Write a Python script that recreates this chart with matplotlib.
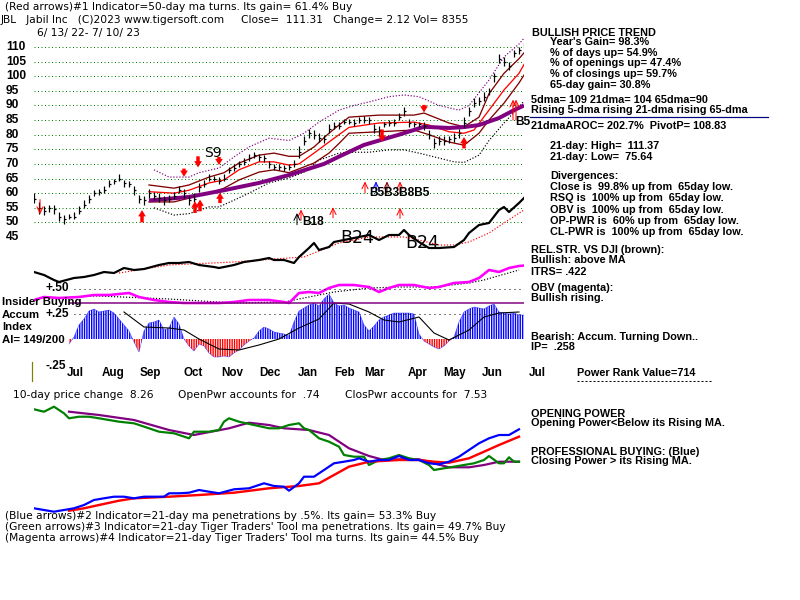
import matplotlib
matplotlib.use('Agg')
import matplotlib.pyplot as plt
from matplotlib.lines import Line2D
from matplotlib.transforms import blended_transform_factory as btf

plt.rcParams['hatch.linewidth'] = 1.0

# ---------------- data ----------------
price_ticks = [45, 50, 55, 60, 65, 70, 75, 80, 85, 90, 95, 100, 105, 110]

close = [58,55,54,55,54.5,52,51,52,52,54,56,58,60,60.5,61,63,64,65,63.5,63,61,58,57.5,60,59,
         58.5,57.5,58,59,61,60,57.5,58,62,63,65,65,64,65,68,68.5,70,70.5,72,73,72.5,72,70,69,69,
         68.5,69,70,74,78,80.5,80,79,78.5,82,83,83,84.5,84.5,84,85,85,85,82,81.5,83.5,84,84,86,88,
         84,83.5,83.5,83,80,77,78,78,78.5,79,80.5,84,88,91,91.5,93,95,100,106,105,103.5,108,109,111]
highs = [60,57,55.5,56,56,53.5,52.5,53,53.5,55.5,57.5,59.5,61,61.5,62.5,64.5,65,66.5,64.5,64,62.5,
         59.5,59,61.5,60.5,60,59,59.5,60.5,62.5,61.5,59,60,63.5,64.5,66.5,66,65.5,66.5,69,70,71,72,
         73.5,74,73.5,73,71,70,70,69.5,70,71.5,76,79.5,82,81.5,80.5,80,83.5,84.5,84.5,85.5,85.5,85.5,
         86,86.5,86,83.5,83,84.5,85,85.5,87.5,89.5,85.5,84.5,84.5,84.5,81.5,79,79.5,79.5,79.5,80.5,
         82,86,89.5,92.5,93,94.5,96,101,107.5,106.5,105,109,110,111.5]
lows = [56.5,53,52.5,53.5,53,50.5,49.5,51,51,53,55,56.5,59,59.5,60,62,63,64,62,62,59.5,56.5,56,58.5,
        57.5,57,56,57,58,60,58.5,56,57,60.5,62,64,64,63,64,67,67.5,69,69.5,71,72,71,70.5,68.5,68,68,
        67.5,68,69,72,76.5,79,78.5,77.5,77,80.5,82,82,83.5,83.5,83,84,84,83.5,80.5,79.5,82.5,83,83,85,
        86.5,82.5,82.5,82.5,81.5,78.5,75.5,76.5,76.5,77,77.5,79,82.5,86.5,89.5,90,91.5,93.5,98,104.5,
        103.5,102,106.5,107.5,109.5]

ma65_x = [23,31,38,45,51,58,61,66,73,78,83,86,89,93,96,98]
ma65_y = [57.5,58.7,61,63.5,66.2,70,72.5,76.5,80,82.7,82.3,82.6,83.3,85.7,88.4,90]
ma21_x = [23,28,31,35,38,41,45,48,51,53,56,59,61,63,69,76,79,83,86,88,91,94,97,98]
ma21_y = [60.5,60,61,63.5,64.5,68,70.7,70.7,69.6,70,73.7,77.5,80,82.5,84,84.3,83.3,81,80.5,81.6,88.4,95.3,101,104]
band_hi_x = [23,28,31,35,38,41,45,48,51,53,56,59,61,63,69,76,78,83,86,89,91,94,97,98]
band_hi_y = [62.8,61.7,62.8,65.5,67,70.3,73,73.7,72.6,72.6,75.8,80.5,83.3,86,86.7,86.7,87.4,84,82.7,86,94,101,106,108]
band_lo_x = [23,28,31,35,38,41,45,48,51,56,59,61,63,69,76,79,83,86,89,91,94,97,98]
band_lo_y = [57,57,58.3,60,61.7,64.5,67.2,68,67,70.3,73.7,77,80.5,81,81.6,80,77.5,76.4,80.5,85,90.8,97.7,100.4]
outer_hi_x = [24,27,31,33,37,40,43,47,51,54,57,61,64,67,71,74,77,81,85,87,91,94,97,98]
outer_hi_y = [68,65.5,65.5,67,68.6,72.4,75.8,78.8,78,80.5,84.3,88.4,90,91.2,93,93.6,93,90,88.4,90,98.7,106.6,111,113]
outer_lo_x = [24,28,31,35,37,40,43,47,51,54,57,61,64,67,71,74,77,81,84,86,89,91,94,97,98]
outer_lo_y = [55,52.5,53,55.3,55.3,57.6,60,63.5,65.2,67.2,71.3,73.7,74,74,74.8,74.8,73.7,72,70.7,70.5,73,78,84,89.5,91.5]

rs_x = [0,2,4,5,8,10,12,14,16,18,20,22,25,27,29,31,33,36,37,40,42,45,47,48,50,52,53,55,56,57,59,60,62,
        65,67,69,71,73,74,75,77,79,81,84,86,87,89,91,93,94,95,97,98]
rs_y = [0.28,0.25,0.20,0.18,0.22,0.23,0.25,0.28,0.27,0.32,0.30,0.31,0.35,0.37,0.37,0.38,0.35,0.33,0.32,
        0.35,0.38,0.40,0.42,0.40,0.40,0.37,0.43,0.52,0.57,0.50,0.53,0.58,0.60,0.63,0.65,0.60,0.65,0.65,
        0.70,0.65,0.58,0.52,0.52,0.53,0.60,0.67,0.75,0.77,0.90,0.93,0.88,0.97,1.02]
rsma_x = [17,27,40,48,54,61,67,74,77,81,84,87,91,94,98]
rsma_y = [0.27,0.35,0.38,0.41,0.43,0.57,0.63,0.63,0.60,0.55,0.55,0.58,0.67,0.77,0.90]

obv_x = [0,2,5,9,12,15,19,21,24,27,30,33,37,40,43,47,50,51,53,55,57,59,61,64,67,69,71,73,76,79,81,84,
         87,89,91,93,95,97,98]
obv_y = [1.0,1.15,1.1,1.15,1.25,1.25,1.35,1.15,1.0,0.9,0.85,0.85,0.85,0.9,1.0,1.0,0.9,0.85,1.35,1.4,
         1.35,1.6,1.75,1.75,1.65,1.4,1.6,1.75,1.75,1.6,1.65,1.85,1.9,2.1,2.5,2.4,2.6,2.7,2.72]
obvma_x = [10,13,27,40,50,60,67,73,80,87,90,97]
obvma_y = [1.2,1.2,1.05,0.85,0.9,1.4,1.6,1.65,1.65,1.85,2.0,2.5]

acc_start = 7
acc_y = [-0.05,0.02,0.14,0.20,0.28,0.30,0.27,0.28,0.29,0.26,0.20,0.14,0.08,-0.03,-0.13,0.08,0.16,0.17,
         0.19,0.09,0.11,0.22,0.15,0.00,-0.07,-0.12,-0.05,-0.07,-0.14,-0.18,-0.18,-0.17,-0.18,-0.14,-0.11,
         -0.06,-0.02,0.01,0.08,0.12,0.10,0.07,0.06,0.05,0.03,0.17,0.28,0.31,0.34,0.36,0.33,0.40,0.45,0.36,
         0.33,0.34,0.31,0.29,0.27,0.14,0.08,0.13,0.19,0.22,0.24,0.26,0.26,0.26,0.26,0.25,0.05,-0.02,-0.05,
         -0.08,-0.10,-0.07,-0.02,0.02,0.17,0.27,0.30,0.32,0.31,0.30,0.33,0.35,0.27,0.26,0.25,0.26,0.24,0.24]
accma_x = [18,22,27,30,33,37,41,45,49,53,57,60,63,67,70,73,77,80,83,87,90,93,97]
accma_y = [0.27,0.12,0.11,0.09,0.0,-0.1,-0.11,-0.06,0.0,0.11,0.2,0.36,0.35,0.27,0.19,0.17,0.22,0.06,
           -0.01,0.09,0.22,0.26,0.27]
insider_level = 0.36

op_x = [0,2,4,6,7,9,11,13,15,17,20,23,25,28,31,32,35,37,38,39,41,44,47,49,51,53,54,55,57,59,61,62,64,
        66,67,69,71,73,75,77,79,80,82,84,86,88,90,91,93,94,95,96,97]
op_y = [11.07,10.83,11.33,10.67,10.17,10.33,10.33,10.17,10.0,9.83,9.67,9.17,8.83,8.67,8.17,8.83,8.83,
        9.0,9.83,10.17,9.83,9.5,9.17,9.17,9.5,9.67,9.17,9.0,8.17,7.83,7.33,6.5,6.33,6.33,5.5,6.0,6.17,
        6.5,6.17,6.0,5.5,5.0,5.17,5.33,5.5,5.67,6.0,6.4,5.67,5.67,6.27,5.83,5.83]
opma_x = [7,13,20,27,32,39,43,47,50,55,59,63,67,70,73,77,80,83,87,90,93,97]
opma_y = [10.83,10.5,10.0,9.0,8.5,9.17,9.73,9.5,9.17,9.0,8.5,7.17,6.4,6.0,6.07,6.07,5.67,5.27,5.27,
          5.5,5.83,5.83]
cp_x = [0,2,4,6,8,10,12,14,16,18,20,22,24,26,27,29,31,33,35,37,40,43,46,48,50,51,53,54,56,58,60,62,
        64,65,67,69,71,73,75,77,79,81,83,85,87,89,91,93,95,97]
cp_y = [1.17,1.0,0.83,1.0,1.17,1.5,2.0,2.17,2.33,2.33,2.17,2.33,2.33,2.33,2.67,2.67,2.73,3.0,2.83,
        2.67,3.07,3.17,3.67,3.4,3.33,2.93,3.67,4.33,4.33,5.0,5.67,5.83,6.0,6.17,5.83,6.0,6.0,6.4,6.0,
        6.0,5.67,5.57,5.83,6.33,7.0,7.67,8.17,8.5,8.5,9.07]
cpma_x = [7,10,13,17,20,27,33,40,47,53,57,60,63,67,73,77,80,83,87,90,93,97]
cpma_y = [0.93,1.17,1.5,1.93,2.17,2.33,2.5,2.73,3.17,3.4,3.67,4.5,5.33,5.83,6.0,6.0,5.83,5.73,6.17,
          6.83,7.5,8.33]

month_labels = ['Jul', 'Aug', 'Sep', 'Oct', 'Nov', 'Dec', 'Jan', 'Feb', 'Mar', 'Apr', 'May', 'Jun', 'Jul']
month_pos = [8.2, 15.8, 23.2, 31.8, 39.6, 47.2, 54.8, 62.2, 68.2, 76.8, 84.2, 91.6, 100.6]

# signals: (index, tail price, tip price)
thick_red = [(21.6, 50, 54.2), (32.2, 53.2, 57.2), (33.2, 53.8, 57.8), (37.2, 56.6, 60.2),
             (86, 75.3, 79.2), (30, 68.4, 65.6), (32.8, 72.6, 68.8), (37, 72.4, 69.6),
             (78, 90.2, 87.6), (69.6, 81.8, 77.6)]
thin_arrows = [(1.2, 57.8, 52.8, 'red'), (53.4, 50.8, 54.4, 'red'), (52.6, 49.2, 53.2, 'black'),
               (59.8, 51.6, 55.2, 'red'), (73.2, 51.4, 55.0, 'red'), (66.2, 60, 64, 'red'),
               (68.4, 60, 64, 'blue'), (70.6, 60, 64, '#800000'), (73.2, 60, 64, 'red'),
               (95.8, 85, 92, 'red'), (96.4, 85, 92, 'red')]
b_labels = [('B5B3B8B5', 67.0, 60.0), ('B18', 53.6, 50.3), ('B5', 96.3, 84.3)]
b24_labels = [('B24', 61.2, 44.8), ('B24', 74.2, 42.9)]

# ---------------- figure ----------------
W, H = 800, 600
fig = plt.figure(figsize=(8, 6), dpi=100)
fig.patch.set_facecolor('white')

BOLD = dict(family='Liberation Sans', weight='bold', size=7.8)
REG = dict(family='DejaVu Sans', size=7.7)
PX = 0.72


def box(x0, y0, x1, y1, xlim=(0, 98)):
    ax = fig.add_axes([x0 / W, 1 - y1 / H, (x1 - x0) / W, (y1 - y0) / H])
    ax.set_xlim(*xlim)
    ax.patch.set_alpha(0)
    for s in ax.spines.values():
        s.set_visible(False)
    ax.set_xticks([])
    ax.set_yticks([])
    return ax


def ftext(x, y, s, **kw):
    fig.text(x / W, 1 - y / H, s, va='center', ha='left', **kw)


# --- price panel ---
axp = box(34, 38.23, 524, 237)
axp.set_ylim(45, 113)
for v in price_ticks:
    axp.axhline(v, color='#008000', lw=1.0 * PX, ls=(0, (1, 2.5)), zorder=1)
    axp.text(6 / W, v, str(v), transform=btf(fig.transFigure, axp.transData),
             ha='left', va='center', **dict(BOLD, size=8.6))

xi = list(range(len(close)))
axp.vlines(xi, lows, highs, color='black', lw=1.2 * PX, zorder=5)
axp.hlines(close, [i for i in xi], [i + 0.45 for i in xi], color='black', lw=1.2 * PX, zorder=5)

axp.plot(outer_hi_x, outer_hi_y, color='#800080', lw=1.2 * PX, ls=(0, (1, 1.5)), clip_on=False, zorder=3)
axp.plot(outer_lo_x, outer_lo_y, color='black', lw=1.2 * PX, ls=(0, (1, 1.5)), zorder=3)
axp.plot(band_hi_x, band_hi_y, color='#800000', lw=1.3 * PX, zorder=3)
axp.plot(band_lo_x, band_lo_y, color='#800000', lw=1.3 * PX, zorder=3)
axp.plot(ma21_x, ma21_y, color='#FF0000', lw=1.3 * PX, zorder=3)
axp.plot(ma65_x, ma65_y, color='#800080', lw=4 * PX, zorder=4, solid_capstyle='butt')

for (i, tail, tip) in thick_red:
    axp.annotate('', xy=(i, tip), xytext=(i, tail),
                 arrowprops=dict(arrowstyle='simple,head_width=0.55,head_length=0.45,tail_width=0.25',
                                 color='#FF0000', lw=0, shrinkA=0, shrinkB=0), zorder=6)
for (i, tail, tip, c) in thin_arrows:
    axp.annotate('', xy=(i, tip), xytext=(i, tail), annotation_clip=False,
                 arrowprops=dict(arrowstyle='->,head_width=0.22,head_length=0.45',
                                 color=c, lw=1.0 * PX, shrinkA=0, shrinkB=0), zorder=6)
axp.text(35.8, 73.8, 'S9', ha='center', va='center', family='DejaVu Sans', size=10, zorder=7)
for (s, i, v) in b_labels:
    axp.text(i, v, s, ha='left', va='center', family='Liberation Sans', weight='bold', size=8.6,
             clip_on=False, zorder=7)

# --- relative strength line ---
axr = box(34, 190, 524, 300)
axr.set_ylim(0, 1.1)
axr.plot(rsma_x, rsma_y, color='#FF0000', lw=1.2 * PX, ls=(0, (1, 1.5)))
axr.plot(rs_x, rs_y, color='black', lw=2.2 * PX)
for (s, i, v) in b24_labels:
    axp.text(i, v, s, ha='left', va='center', family='DejaVu Sans', size=12.5, clip_on=False, zorder=7)

# --- OBV ---
axo = box(34, 250, 524, 320)
axo.set_ylim(0, 3.5)
axo.plot(obvma_x, obvma_y, color='black', lw=1.2 * PX, ls=(0, (1, 1.5)))
axo.plot(obv_x, obv_y, color='#FF00FF', lw=2.6 * PX)

# --- Accumulation index ---
axa = box(34, 289, 524, 364)
axa.set_ylim(-0.25, 0.5)
acc_x = list(range(acc_start, acc_start + len(acc_y)))
pos = [v >= 0 for v in acc_y]
neg = [v < 0 for v in acc_y]
axa.fill_between(acc_x, 0, acc_y, where=pos, interpolate=True, facecolor='none',
                 edgecolor='#0000FF', hatch='|||||||', linewidth=0)
axa.fill_between(acc_x, 0, acc_y, where=neg, interpolate=True, facecolor='none',
                 edgecolor='#FF0000', hatch='|||||||', linewidth=0)
axa.plot(acc_x, acc_y, color='#0000FF', lw=0.6 * PX, alpha=0.6)
axa.plot(accma_x, accma_y, color='black', lw=1.1 * PX)
axa.hlines(insider_level, 7, 98, color='#800080', lw=1.5 * PX)
axa.hlines([0.5, 0.25], 8, 98, color='black', lw=1.0 * PX, linestyles=[(0, (1, 4))])

mtr = btf(axa.transData, fig.transFigure)
for lab, p in zip(month_labels, month_pos):
    axa.text(p, 1 - 373 / H, lab, transform=mtr, ha='center', va='center', **dict(BOLD, size=8.4))

ftext(46, 288, '+.50', **dict(BOLD, size=8.6))
ftext(2, 302, 'Insider Buying', **dict(BOLD, size=8.2))
ftext(2, 315, 'Accum', **dict(BOLD, size=8.2))
ftext(46, 314, '+.25', **dict(BOLD, size=8.6))
ftext(2, 327, 'Index', **dict(BOLD, size=8.2))
ftext(2, 340, 'AI= 149/200', **dict(BOLD, size=8.2))
ftext(46, 366, '-.25', **dict(BOLD, size=8.6))
fig.add_artist(Line2D([32 / W, 32 / W], [1 - 362 / H, 1 - 381 / H], color='#808000', lw=1.2 * PX))

# --- Opening / closing power ---
axb = box(34, 400, 524, 520)
axb.set_ylim(0, 12)
axb.plot(opma_x, opma_y, color='#800080', lw=2.2 * PX)
axb.plot(op_x, op_y, color='#008000', lw=2.2 * PX)
axb.plot(cpma_x, cpma_y, color='#FF0000', lw=2.4 * PX)
axb.plot(cp_x, cp_y, color='#0000FF', lw=2.2 * PX)

# --- header texts ---
ftext(5, 7, '(Red arrows)#1 Indicator=50-day ma turns. Its gain= 61.4% Buy', **REG)
ftext(1, 20, 'JBL   Jabil Inc   (C)2023 www.tigersoft.com     Close=  111.31   Change= 2.12 Vol= 8355', **REG)
ftext(37, 33, '6/ 13/ 22- 7/ 10/ 23', **REG)

# --- right-side texts ---
right_texts = [
    (532, 33, 'BULLISH PRICE TREND'),
    (550, 42, "Year's Gain= 98.3%"),
    (550, 53, '% of days up= 54.9%'),
    (550, 63, '% of openings up= 47.4%'),
    (550, 74, '% of closings up= 59.7%'),
    (550, 85, '65-day gain= 30.8%'),
    (531, 100, '5dma= 109 21dma= 104 65dma=90'),
    (531, 110, 'Rising 5-dma rising 21-dma rising 65-dma'),
    (531, 126, '21dmaAROC= 202.7%  PivotP= 108.83'),
    (550, 146, '21-day: High=  111.37'),
    (550, 157, '21-day: Low=  75.64'),
    (550, 176, 'Divergences:'),
    (550, 187, 'Close is  99.8% up from  65day low.'),
    (550, 198, 'RSQ is  100% up from  65day low.'),
    (550, 210, 'OBV is  100% up from  65day low.'),
    (550, 221, 'OP-PWR is  60% up from  65day low.'),
    (550, 232, 'CL-PWR is  100% up from  65day low.'),
    (531, 250, 'REL.STR. VS DJI (brown):'),
    (531, 260, 'Bullish: above MA'),
    (531, 272, 'ITRS= .422'),
    (531, 288, 'OBV (magenta):'),
    (531, 298, 'Bullish rising.'),
    (531, 337, 'Bearish: Accum. Turning Down..'),
    (531, 347, 'IP=  .258'),
    (577, 373, 'Power Rank Value=714'),
    (531, 414, 'OPENING POWER'),
    (531, 423, 'Opening Power<Below its Rising MA.'),
    (531, 452, 'PROFESSIONAL BUYING: (Blue)'),
    (531, 461, 'Closing Power > its Rising MA.'),
]
for (x, y, s) in right_texts:
    ftext(x, y, s, **BOLD)
fig.add_artist(Line2D([530 / W, 768 / W], [1 - 117 / H] * 2, color='#000080', lw=1.2 * PX))
fig.add_artist(Line2D([577 / W, 712 / W], [1 - 381 / H] * 2, color='black', lw=1.0 * PX,
                      ls=(0, (2, 2))))

# --- bottom texts ---
ftext(13, 395, '10-day price change  8.26', **REG)
ftext(178, 395, 'OpenPwr accounts for  .74', **REG)
ftext(345, 395, 'ClosPwr accounts for  7.53', **REG)
ftext(5, 516, "(Blue arrows)#2 Indicator=21-day ma penetrations by .5%. Its gain= 53.3% Buy", **REG)
ftext(5, 527, "(Green arrows)#3 Indicator=21-day Tiger Traders' Tool ma penetrations. Its gain= 49.7% Buy", **REG)
ftext(5, 538, "(Magenta arrows)#4 Indicator=21-day Tiger Traders' Tool ma turns. Its gain= 44.5% Buy", **REG)

fig.savefig('out.png', dpi=100, facecolor='white')
